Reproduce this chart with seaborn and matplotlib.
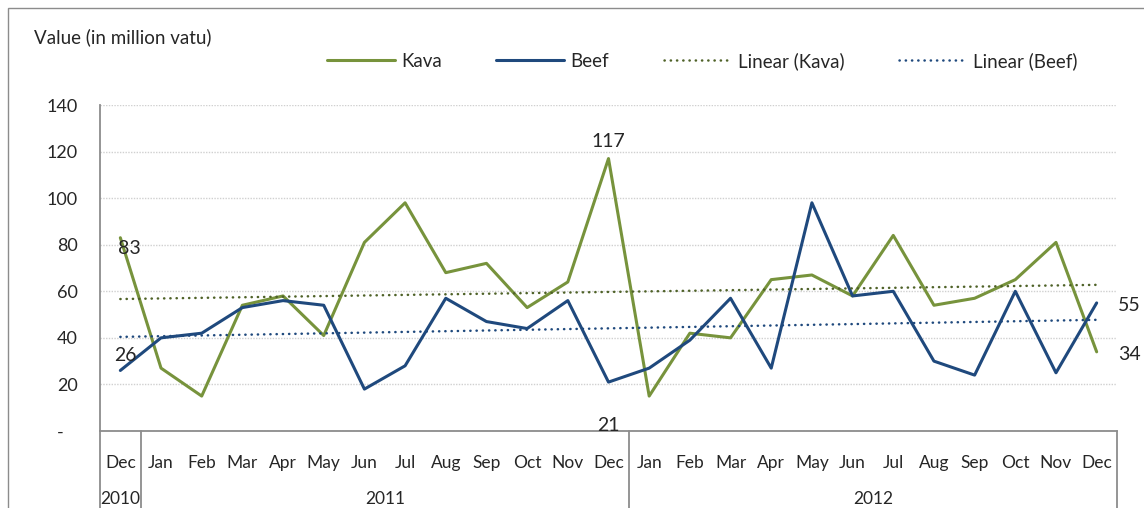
import matplotlib
matplotlib.use("Agg")
import matplotlib.pyplot as plt
from matplotlib.lines import Line2D
from matplotlib.patches import Rectangle
import matplotlib.transforms as mtransforms
import seaborn as sns
import pandas as pd

months = ["Dec", "Jan", "Feb", "Mar", "Apr", "May", "Jun", "Jul", "Aug", "Sep", "Oct", "Nov", "Dec",
          "Jan", "Feb", "Mar", "Apr", "May", "Jun", "Jul", "Aug", "Sep", "Oct", "Nov", "Dec"]
years = ["2010", "2011", "2012"]
kava = [83, 27, 15, 54, 58, 41, 81, 98, 68, 72, 53, 64, 117,
        15, 42, 40, 65, 67, 58, 84, 54, 57, 65, 81, 34]
beef = [26, 40, 42, 53, 56, 54, 18, 28, 57, 47, 44, 56, 21,
        27, 39, 57, 27, 98, 58, 60, 30, 24, 60, 25, 55]
yticks = [0, 20, 40, 60, 80, 100, 120, 140]

KAVA_C = "#77933C"
BEEF_C = "#1F497D"
KAVA_T = "#4F6228"
BEEF_T = "#1F497D"

sns.set_theme(style="white")
plt.rcParams["font.family"] = ["Lato", "DejaVu Sans"]

idx = list(range(len(months)))
df = pd.DataFrame({
    "idx": idx * 2,
    "value": kava + beef,
    "product": ["Kava"] * len(kava) + ["Beef"] * len(beef),
})

fig = plt.figure(figsize=(11.44, 5.08), dpi=100)
ax = fig.add_axes([100 / 1144, 77 / 508, 1017 / 1144, 326 / 508])

sns.lineplot(data=df, x="idx", y="value", hue="product",
             palette={"Kava": KAVA_C, "Beef": BEEF_C}, linewidth=2.2,
             legend=False, ax=ax)
dot = (0, (0.1, 2.4))
sns.regplot(x=idx, y=kava, scatter=False, ci=None, truncate=True, ax=ax,
            line_kws=dict(color=KAVA_T, lw=1.8, linestyle=dot, dash_capstyle="round"))
sns.regplot(x=idx, y=beef, scatter=False, ci=None, truncate=True, ax=ax,
            line_kws=dict(color=BEEF_T, lw=1.8, linestyle=dot, dash_capstyle="round"))

ax.set_xlim(-0.5, len(months) - 0.5)
ax.set_ylim(0, 140)
ax.set_yticks(yticks)
ax.set_yticklabels(["-   "] + [str(v) for v in yticks[1:]], fontsize=13)
ax.set_xticks(idx)
ax.set_xticklabels(months, fontsize=12.5)
ax.tick_params(axis="both", length=0)
ax.tick_params(axis="y", pad=16)
ax.tick_params(axis="x", pad=17)
ax.set_xlabel("")
ax.set_ylabel("")
ax.yaxis.grid(True, color="#D0D0D0", linestyle=(0, (1, 1)), lw=1)
ax.xaxis.grid(False)
for s in ["top", "right"]:
    ax.spines[s].set_visible(False)
for s in ["left", "bottom"]:
    ax.spines[s].set_color("#8C8C8C")
    ax.spines[s].set_linewidth(1.3)

# category table below the axis
trans = mtransforms.blended_transform_factory(ax.transData, ax.transAxes)
for xs in [-0.5, 0.5, 12.5, len(months) - 0.5]:
    ax.plot([xs, xs], [0, -0.35], transform=trans, color="#8C8C8C", lw=1.3, clip_on=False)
for yr, xc in zip(years, [0, 6.5, 18.5]):
    ax.text(xc, -0.21, yr, transform=trans, ha="center", va="center", fontsize=12.5)

# data labels
labels = [(0, kava[0], (6.5, -8)), (0, beef[0], (3.6, 10.8)),
          (12, kava[12], (0, 12.2)), (12, beef[12], (0, -31)),
          (24, beef[24], (23.8, -1.5)), (24, kava[24], (23.8, -2))]
for xi, v, off in labels:
    ax.annotate(str(v), (xi, v), xytext=off, textcoords="offset points",
                ha="center", va="center", fontsize=14)

fig.text(34 / 1144, 1 - 37 / 508, "Value (in million vatu)", ha="left", va="center", fontsize=13.5)

handles = [Line2D([], [], color=KAVA_C, lw=2.2),
           Line2D([], [], color=BEEF_C, lw=2.2),
           Line2D([], [], color=KAVA_T, lw=1.8, linestyle=dot, dash_capstyle="round"),
           Line2D([], [], color=BEEF_T, lw=1.8, linestyle=dot, dash_capstyle="round")]
fig.legend(handles, ["Kava", "Beef", "Linear (Kava)", "Linear (Beef)"], ncol=4,
           loc="center left", bbox_to_anchor=(327 / 1144, 1 - 61 / 508), frameon=False,
           fontsize=13.5, handlelength=3.6, handletextpad=0.36, columnspacing=2.9, borderpad=0,
           borderaxespad=0)

fig.patches.append(Rectangle((8 / 1144, -0.1), 1.2, 1.1 - 8 / 508, transform=fig.transFigure,
                             fill=False, edgecolor="#8C8C8C", lw=1))

plt.savefig("out.png", dpi=100)
plt.close()
